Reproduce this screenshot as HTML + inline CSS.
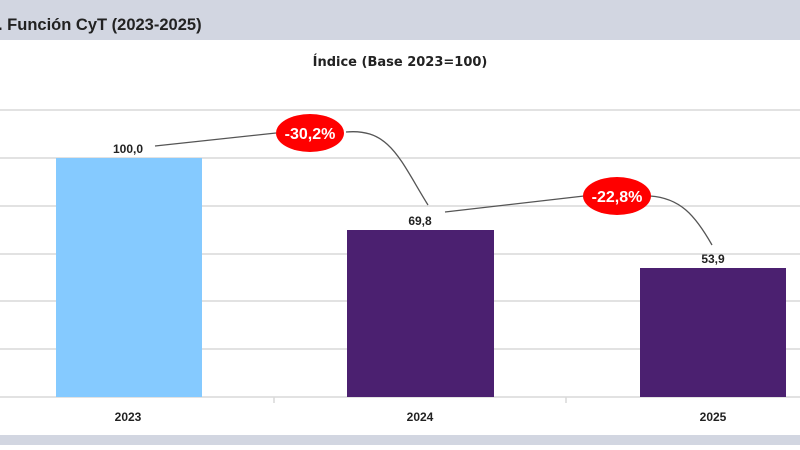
<!DOCTYPE html>
<html><head><meta charset="utf-8"><style>
body{margin:0;width:800px;height:445px;overflow:hidden;background:#fff;font-family:"Liberation Sans",Arial,sans-serif}
</style></head><body>
<svg width="800" height="445" xmlns="http://www.w3.org/2000/svg">
<rect x="0" y="0" width="800" height="40" fill="#d2d6e1"/>
<rect x="0" y="435" width="800" height="10" fill="#d2d6e1"/>
<text x="-2" y="30" font-family="Liberation Sans,sans-serif" font-weight="bold" font-size="16.5" fill="#222">. Función CyT (2023-2025)</text>
<text x="400" y="66" text-anchor="middle" font-family="DejaVu Sans,sans-serif" font-weight="bold" font-size="13" fill="#222">Índice (Base 2023=100)</text>
<g stroke="#d9d9d9" stroke-width="1.5">
<line x1="0" y1="110" x2="800" y2="110"/><line x1="0" y1="158" x2="800" y2="158"/>
<line x1="0" y1="206" x2="800" y2="206"/><line x1="0" y1="254" x2="800" y2="254"/>
<line x1="0" y1="301" x2="800" y2="301"/><line x1="0" y1="349" x2="800" y2="349"/>
<line x1="0" y1="397" x2="800" y2="397"/>
<line x1="566" y1="397" x2="566" y2="403"/><line x1="274" y1="397" x2="274" y2="403"/>
</g>
<rect x="56" y="158" width="146" height="239" fill="#85caff"/>
<rect x="347" y="230" width="147" height="167" fill="#4b2070"/>
<rect x="640" y="268" width="146" height="129" fill="#4b2070"/>
<g font-weight="bold" font-size="12" fill="#222" text-anchor="middle">
<text x="128" y="153">100,0</text><text x="420" y="225">69,8</text><text x="713" y="263">53,9</text>
<text x="128" y="421">2023</text><text x="420" y="421">2024</text><text x="713" y="421">2025</text>
</g>
<g fill="none" stroke="#555" stroke-width="1.3">
<path d="M155 146 L276 133"/>
<path d="M346 132 C390 128 400 160 428 205"/>
<path d="M445 212 L584 196"/>
<path d="M650 196 C680 198 695 215 712 245"/>
</g>
<ellipse cx="310" cy="133" rx="34" ry="19" fill="#ff0000"/>
<ellipse cx="617" cy="196" rx="34" ry="19" fill="#ff0000"/>
<g font-weight="bold" font-size="16" fill="#fff" text-anchor="middle">
<text x="310" y="139">-30,2%</text><text x="617" y="202">-22,8%</text>
</g>
</svg>
</body></html>
